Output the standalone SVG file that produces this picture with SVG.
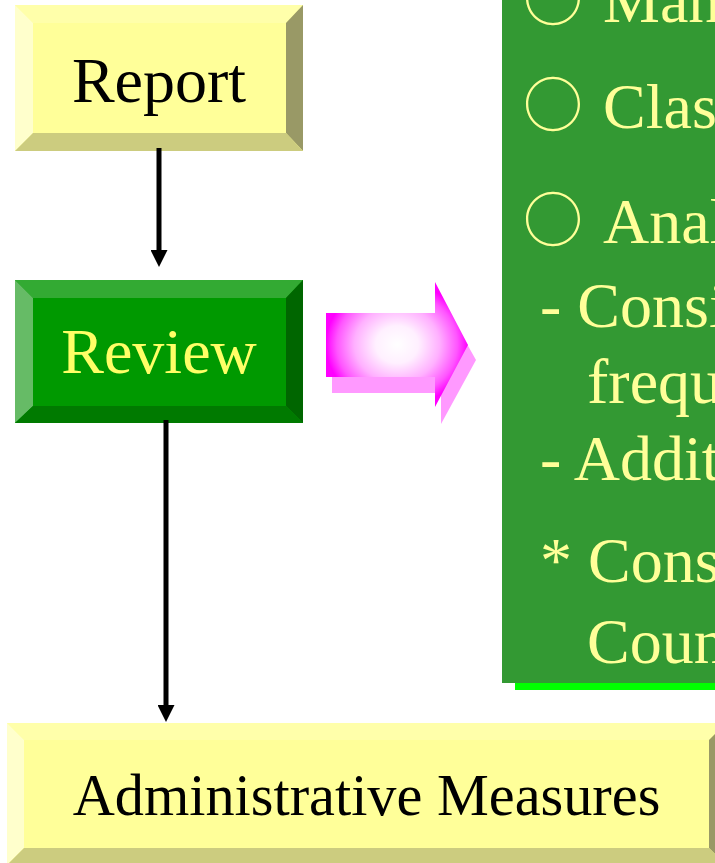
<svg xmlns="http://www.w3.org/2000/svg" width="715" height="863" viewBox="0 0 715 863">
  <defs>
    <style>
      .serif { font-family: "Liberation Serif", "Times New Roman", serif; }
      .label { font-size: 64px; text-anchor: middle; }
      .panel-text { font-size: 64px; fill: #FFFF99; }
      .bullet { font-family: "Noto Sans CJK KR", "DejaVu Sans", sans-serif; font-size: 60px; fill: #FFFF99; text-anchor: middle; }
      .conn { stroke: #000; stroke-width: 5; fill: none; }
      /* yellow bevelled button */
      .y-face { fill: #FFFF99; }
      .y-top { fill: #FFFFAA; }
      .y-left { fill: #FFFFCC; }
      .y-right { fill: #999966; }
      .y-bottom { fill: #CCCC7F; }
      /* green bevelled button */
      .g-face { fill: #009900; }
      .g-top { fill: #33AA33; }
      .g-left { fill: #66BB66; }
      .g-right { fill: #006600; }
      .g-bottom { fill: #007A00; }
    </style>
    <marker id="head" viewBox="0 0 17 17" refX="0" refY="8.5" markerWidth="17" markerHeight="17" markerUnits="userSpaceOnUse" orient="auto">
      <path d="M0,0 L17,8.5 L0,17 z" fill="#000"/>
    </marker>
    <radialGradient id="pinkGlow" cx="0.5" cy="0.5" r="0.5" fx="0.5" fy="0.5">
      <stop offset="0" stop-color="#FFFFFF"/>
      <stop offset="0.3" stop-color="#FFF0FF"/>
      <stop offset="0.6" stop-color="#FFB0FF"/>
      <stop offset="0.85" stop-color="#FF55FF"/>
      <stop offset="1" stop-color="#FF00FF"/>
    </radialGradient>
  </defs>

  <rect width="715" height="863" fill="#FFFFFF"/>

  <!-- details panel -->
  <g id="panel">
    <rect x="515" y="0" width="230" height="690" fill="#00FF00"/>
    <rect x="502" y="-10" width="230" height="693" fill="#339933"/>
    <text class="bullet" x="553" y="21">○</text>
    <text class="bullet" x="553" y="127">○</text>
    <text class="bullet" x="553" y="242">○</text>
    <text class="serif panel-text" x="603" y="22">Man</text>
    <text class="serif panel-text" x="603" y="128">Clas</text>
    <text class="serif panel-text" x="603" y="243">Anal</text>
    <text class="serif panel-text" x="540" y="327">- Consi</text>
    <text class="serif panel-text" x="587" y="403">frequ</text>
    <text class="serif panel-text" x="540" y="480">- Addit</text>
    <text class="serif panel-text" x="540" y="582">* Cons</text>
    <text class="serif panel-text" x="587" y="663">Coun</text>
  </g>

  <!-- block arrow pointing to the panel -->
  <g id="pink-arrow">
    <polygon points="332,329 441,329 441,298 476,360 441,424 441,393 332,393" fill="#FF99FF"/>
    <polygon points="326,313 435,313 435,282 468,345 435,407 435,377 326,377" fill="url(#pinkGlow)"/>
  </g>

  <g id="report">
    <rect class="y-face" x="15" y="5" width="288" height="146"/>
    <polygon class="y-top" points="15,5 303,5 286,23 33,23"/>
    <polygon class="y-left" points="15,5 33,23 33,133 15,151"/>
    <polygon class="y-right" points="303,5 303,151 286,133 286,23"/>
    <polygon class="y-bottom" points="15,151 33,133 286,133 303,151"/>
    <text class="serif label" x="159" y="102" fill="#000">Report</text>
  </g>

  <g id="review">
    <rect class="g-face" x="15" y="280" width="288" height="143"/>
    <polygon class="g-top" points="15,280 303,280 286,298 33,298"/>
    <polygon class="g-left" points="15,280 33,298 33,406 15,423"/>
    <polygon class="g-right" points="303,280 303,423 286,406 286,298"/>
    <polygon class="g-bottom" points="15,423 33,406 286,406 303,423"/>
    <text class="serif label" x="159" y="373" fill="#FFFF66">Review</text>
  </g>

  <g id="admin-measures">
    <rect class="y-face" x="7" y="723" width="719" height="140"/>
    <polygon class="y-top" points="7,723 726,723 709,740 24,740"/>
    <polygon class="y-left" points="7,723 24,740 24,848 7,865"/>
    <polygon class="y-right" points="726,723 726,865 709,848 709,740"/>
    <polygon class="y-bottom" points="7,865 24,848 709,848 726,865"/>
    <text class="serif label" x="366.5" y="815" style="font-size:58.3px" fill="#000">Administrative Measures</text>
  </g>

  <g id="connectors">
    <path class="conn" d="M159,148 L159,250" marker-end="url(#head)"/>
    <path class="conn" d="M166,420 L166,705" marker-end="url(#head)"/>
  </g>
</svg>
